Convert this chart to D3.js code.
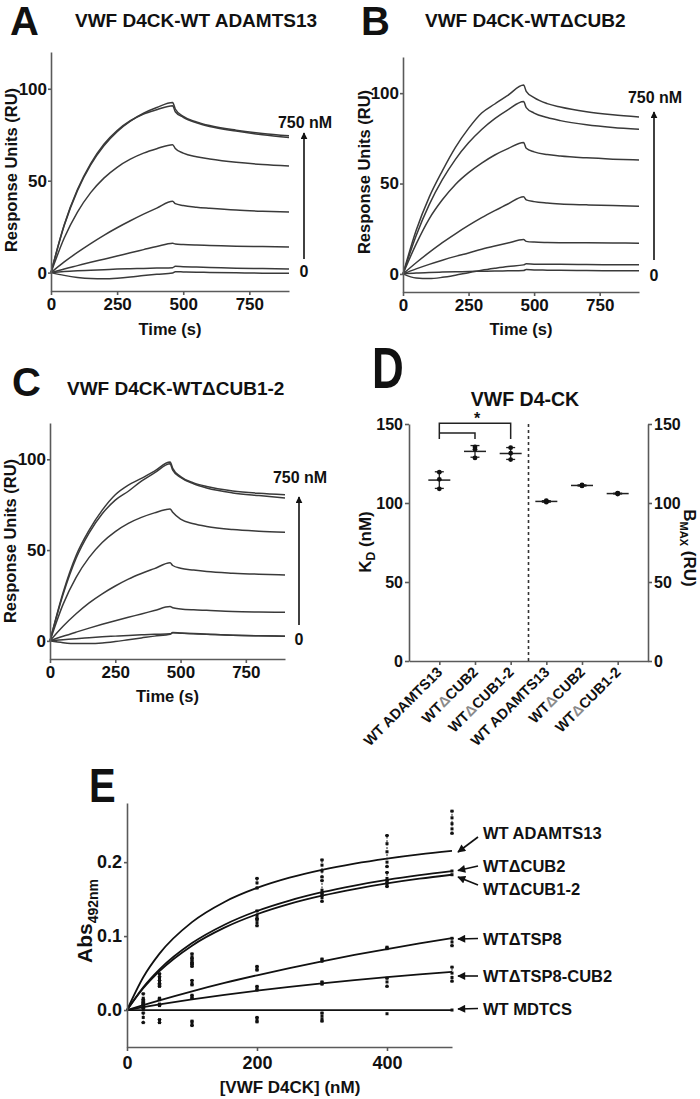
<!DOCTYPE html>
<html><head><meta charset="utf-8">
<script src="https://cdn.jsdelivr.net/npm/d3@7"></script>
<style>
html,body{margin:0;padding:0;background:#fff;}
svg{display:block;}
</style></head><body>
<svg id="fig" width="700" height="1099"></svg>
<script>
// ---------------- DATA ----------------
// Panels A-C: SPR sensorgrams (Response units vs time)
const times = [0, 50, 100, 150, 200, 250, 300, 350, 400, 460, 470, 500, 550, 600, 700, 800, 900];
const sprTicksX = [0, 250, 500, 750];
const sprTicksY = [0, 50, 100];

const curvesA = [
  [0, 25.6, 44.6, 58.6, 69, 76.7, 82.4, 86.7, 89.8, 92.5, 89, 85, 82, 80, 77.5, 75.7, 74.4],
  [0, 26, 45.2, 59.3, 69.8, 77.3, 82.6, 86.3, 88.6, 90.8, 87.5, 84.5, 81.5, 79.5, 77, 75, 73.5],
  [0, 18.8, 32.9, 43.5, 51.4, 57.3, 61.7, 65, 67.4, 69.6, 67.5, 65, 63, 61.8, 60, 58.8, 58],
  [0, 5.8, 11, 15.8, 20.3, 24.4, 28.2, 31.8, 35.1, 38.8, 37.5, 36.5, 35.6, 35, 34, 33.4, 33],
  [0, 2, 3.8, 5.6, 7.3, 9, 10.8, 12.5, 14.2, 16, 15.6, 15.3, 15, 14.8, 14.4, 14.2, 14],
  [0, 0.6, 1, 1.3, 1.6, 1.9, 2.1, 2.3, 2.5, 2.7, 3.4, 3.2, 3, 2.8, 2.4, 2.2, 2],
  [0, -1.5, -2.6, -3.2, -3.3, -3, -2.4, -1.6, -0.9, -0.2, 0.5, 0.4, 0.2, 0.1, -0.1, -0.3, -0.4]
];
const curvesB = [
  [0, 24, 42.5, 57, 70, 80.5, 89, 94, 98.8, 104.5, 101, 97.5, 94.2, 92.3, 89.7, 88, 86.8],
  [0, 21.1, 38.3, 52.1, 63.4, 72.5, 79.9, 85.9, 90.8, 95.4, 92, 89, 86.5, 84.8, 82.5, 81, 80],
  [0, 16.5, 30.5, 41, 49.5, 56, 61.3, 65.8, 69.3, 72.7, 69.5, 67.5, 66, 65.2, 64.2, 63.5, 63],
  [0, 6.2, 11.9, 17.3, 22.2, 26.8, 31.1, 35, 38.7, 42.7, 41, 40, 39.2, 38.7, 38.2, 37.8, 37.5],
  [0, 2.8, 5.3, 7.6, 9.7, 11.6, 13.6, 15.4, 17.1, 19, 18, 17.6, 17.4, 17.3, 17.2, 17.1, 17],
  [0, -2.3, -2.6, -1.9, -0.7, 0.7, 2, 3.1, 4.1, 5, 5.6, 5.4, 5.3, 5.3, 5.2, 5.1, 5.1],
  [0, 0.5, 0.8, 1, 1.2, 1.3, 1.5, 1.6, 1.7, 1.9, 2.4, 2.2, 2.1, 2, 1.9, 1.8, 1.8]
];
const curvesC = [
  [0, 26.5, 47, 61, 72, 80.5, 85.8, 89.5, 93.5, 98.5, 95, 90.5, 87, 85, 82.6, 81.3, 80.5],
  [0, 25.5, 45.5, 59.5, 70, 77.5, 82.4, 88, 92.5, 97.5, 94, 90, 86.5, 84.2, 81.5, 80, 78.7],
  [0, 20.1, 35, 46, 54.2, 60.2, 64.7, 68, 70.5, 72.6, 70.8, 67, 64.5, 63, 61.3, 60.4, 59.8],
  [0, 8, 14.9, 20.9, 25.9, 30.2, 34, 37.1, 39.8, 43, 41.5, 40, 39, 38.2, 37.3, 36.7, 36.3],
  [0, 2.5, 4.8, 7, 9.1, 11.1, 13, 14.8, 16.7, 18.9, 18.2, 17.6, 17.1, 16.8, 16.2, 15.9, 15.7],
  [0, 0.6, 1.2, 1.7, 2.2, 2.6, 3, 3.3, 3.6, 3.9, 4.4, 4.2, 3.9, 3.6, 3.1, 2.8, 2.6],
  [0, -1, -1.5, -1.5, -1.2, -0.4, 0.6, 1.6, 2.6, 3.6, 4.6, 4.3, 4, 3.7, 3.1, 2.8, 2.6]
];

// Panel D: KD and BMAX replicates
const dLabels = ["WT ADAMTS13", "WTΔCUB2", "WTΔCUB1-2", "WT ADAMTS13", "WTΔCUB2", "WTΔCUB1-2"];
const kdValues = [[119.5, 115, 109], [135.5, 134, 128.5], [135, 131.5, 127.5]];
const bmaxValues = [[101.5, 101, 100.5], [111.5, 111, 110.8], [106.2, 106, 105.7]];
const dTicks = [0, 50, 100, 150];

// Panel E: plate binding
const eNames = ["WT ADAMTS13", "WTΔCUB2", "WTΔCUB1-2", "WTΔTSP8", "WTΔTSP8-CUB2", "WT MDTCS"];
const eConc = [25, 50, 100, 200, 300, 400, 500];
const eFitConc = [0, 25, 50, 100, 150, 200, 250, 300, 350, 400, 450, 500];
const eFitWT     = [0, 0.0444, 0.0763, 0.1189, 0.1462, 0.1651, 0.179, 0.1897, 0.1981, 0.2049, 0.2106, 0.2153];
const eFitCUB2   = [0, 0.0307, 0.0549, 0.0905, 0.1154, 0.1339, 0.148, 0.1593, 0.1684, 0.176, 0.1824, 0.1879];
const eFitCUB12  = [0, 0.0294, 0.0526, 0.0871, 0.1114, 0.1295, 0.1435, 0.1546, 0.1636, 0.1712, 0.1776, 0.183];
const eFitTSP8   = [0, 0.0067, 0.0131, 0.0253, 0.0366, 0.047, 0.0568, 0.0659, 0.0745, 0.0825, 0.09, 0.0971];
const eFitTSP8C2 = [0, 0.0039, 0.0076, 0.0144, 0.0206, 0.0262, 0.0314, 0.0361, 0.0405, 0.0445, 0.0482, 0.0516];
const eFitMDTCS  = [0, 0, 0, 0, 0, 0, 0, 0, 0, 0, 0, 0];
const eRepWT     = [[0.022, 0.016, 0.010], [0.049, 0.044, 0.040], [0.076, 0.072, 0.068, 0.064], [0.178, 0.172, 0.165], [0.203, 0.196, 0.188, 0.18], [0.236, 0.225, 0.214, 0.2, 0.194], [0.269, 0.260, 0.252, 0.245, 0.239]];
const eRepCUB2   = [[0.014, 0.008], [0.045, 0.038, 0.034], [0.07, 0.066, 0.062], [0.134, 0.128, 0.124], [0.175, 0.162, 0.155], [0.186, 0.178, 0.172], [0.188]];
const eRepCUB12  = [[0.012, 0.006], [0.036, 0.032], [0.062, 0.059], [0.122, 0.118, 0.114], [0.158, 0.152, 0.147], [0.175, 0.170, 0.167], [0.183]];
const eRepTSP8   = [[0.008, 0.004], [0.016, 0.014], [0.040, 0.036, 0.034], [0.059, 0.056, 0.054], [0.069, 0.066], [0.085, 0.083], [0.097, 0.092, 0.087]];
const eRepTSP8C2 = [[0.004, 0.002], [0.008, 0.006], [0.020, 0.018, 0.016], [0.032, 0.029, 0.027], [0.038, 0.035], [0.043, 0.038, 0.032], [0.058, 0.050, 0.044, 0.039]];
const eRepMDTCS  = [[-0.004, -0.010, -0.017], [-0.013, -0.017], [-0.015, -0.018, -0.021], [-0.010, -0.013, -0.016], [-0.004, -0.008, -0.012, -0.015], [-0.005], [0.0]];
const eTicksX = [0, 200, 400];
const eTicksY = [0, 0.1, 0.2];

// ---------------- DRAWING ----------------
const FONT = '"Liberation Sans", Arial, Helvetica, sans-serif';
const AX = "#5a5a5a";
const svg = d3.select("#fig").attr("font-family", FONT).attr("font-weight", "bold");

const defs = svg.append("defs");
defs.append("marker").attr("id", "ah").attr("viewBox", "0 0 10 10").attr("refX", 9).attr("refY", 5)
  .attr("markerWidth", 7).attr("markerHeight", 7).attr("markerUnits", "userSpaceOnUse").attr("orient", "auto")
  .append("path").attr("d", "M0,0 L10,5 L0,10 z").attr("fill", "#111");
defs.append("marker").attr("id", "ah2").attr("viewBox", "0 0 10 10").attr("refX", 9).attr("refY", 5)
  .attr("markerWidth", 9).attr("markerHeight", 8).attr("markerUnits", "userSpaceOnUse").attr("orient", "auto")
  .append("path").attr("d", "M0,0 L10,5 L0,10 z").attr("fill", "#111");

function styleAxis(g, fs) {
  g.attr("font-family", FONT).attr("font-size", fs).attr("font-weight", "bold");
  g.select(".domain").attr("stroke", AX).attr("stroke-width", 1.6);
  g.selectAll(".tick line").attr("stroke", AX).attr("stroke-width", 1.6);
  g.selectAll(".tick text").attr("fill", "#111");
}

function text(x, y, s, fs, opts = {}) {
  const t = svg.append("text").attr("x", x).attr("y", y).attr("font-size", fs).attr("fill", "#111").text(s);
  if (opts.anchor) t.attr("text-anchor", opts.anchor);
  if (opts.transform) t.attr("transform", opts.transform);
  return t;
}

function sensorgram(cfg) {
  const x = d3.scaleLinear().domain([0, 900]).range(cfg.xr);
  const y = d3.scaleLinear().domain([-10, 120]).range(cfg.yr);
  const g = svg.append("g");
  const line = d3.line().x((d, i) => x(times[i])).y(d => y(d)).curve(d3.curveMonotoneX);
  cfg.curves.forEach(c => g.append("path").attr("d", line(c)).attr("fill", "none")
    .attr("stroke", "#3a3a3a").attr("stroke-width", 1.5));
  const ya = g.append("g").attr("transform", `translate(${cfg.xr[0]},0)`)
    .call(d3.axisLeft(y).tickValues(sprTicksY).tickSize(3).tickSizeOuter(0).tickPadding(1));
  styleAxis(ya, 17);
  const xa = g.append("g").attr("transform", `translate(0,${cfg.yr[0]})`)
    .call(d3.axisBottom(x).tickValues(sprTicksX).tickSize(4).tickSizeOuter(0).tickPadding(3));
  styleAxis(xa, 17);
  // titles / labels
  text(cfg.letterX, cfg.letterY, cfg.letter, 40);
  text(cfg.titleX, cfg.titleY, cfg.title, 19);
  text((cfg.xr[0] + cfg.xr[1]) / 2, cfg.timeY, "Time (s)", 16.5, {anchor: "middle"});
  text(0, 0, "Response Units (RU)", 16.5, {anchor: "middle", transform: `translate(${cfg.ylabX},${cfg.ylabY}) rotate(-90)`});
  // concentration arrow
  svg.append("line").attr("x1", cfg.arrowX).attr("x2", cfg.arrowX).attr("y1", cfg.arrowBottom).attr("y2", cfg.arrowTop)
    .attr("stroke", "#111").attr("stroke-width", 1.6).attr("marker-end", "url(#ah)");
  text(cfg.arrowX + 1, cfg.topLabelY, "750 nM", 16, {anchor: "middle"});
  text(cfg.arrowX, cfg.zeroLabelY, "0", 16, {anchor: "middle"});
}

sensorgram({curves: curvesA, xr: [51, 289], yr: [291, 52], letter: "A", letterX: 10, letterY: 35,
  title: "VWF D4CK-WT ADAMTS13", titleX: 75, titleY: 27, timeY: 335, ylabX: 17, ylabY: 170,
  arrowX: 304, arrowTop: 133, arrowBottom: 259, topLabelY: 128, zeroLabelY: 277});
sensorgram({curves: curvesB, xr: [403, 639], yr: [292, 57], letter: "B", letterX: 361, letterY: 35,
  title: "VWF D4CK-WTΔCUB2", titleX: 425, titleY: 27, timeY: 335, ylabX: 370, ylabY: 172,
  arrowX: 654, arrowTop: 112, arrowBottom: 260, topLabelY: 103, zeroLabelY: 281});
sensorgram({curves: curvesC, xr: [50, 285], yr: [659, 423], letter: "C", letterX: 12, letterY: 396,
  title: "VWF D4CK-WTΔCUB1-2", titleX: 67, titleY: 395, timeY: 702, ylabX: 16, ylabY: 541,
  arrowX: 299, arrowTop: 497, arrowBottom: 625, topLabelY: 483, zeroLabelY: 645});

// ---------- Panel D ----------
(function () {
  const x = d3.scalePoint().domain(d3.range(6)).range([409, 648]).padding(0.85);
  const y = d3.scaleLinear().domain([0, 150]).range([661, 424]);
  const g = svg.append("g");
  const yl = g.append("g").attr("transform", "translate(409,0)")
    .call(d3.axisLeft(y).tickValues(dTicks).tickSize(4).tickSizeOuter(0).tickPadding(2));
  styleAxis(yl, 16);
  const yr = g.append("g").attr("transform", "translate(648,0)")
    .call(d3.axisRight(y).tickValues(dTicks).tickSize(4).tickSizeOuter(0).tickPadding(2));
  styleAxis(yr, 16);
  const xa = g.append("g").attr("transform", "translate(0,661)")
    .call(d3.axisBottom(x).tickSize(4).tickSizeOuter(0).tickFormat(""));
  styleAxis(xa, 13);
  // dashed separator
  const mid = (x(2) + x(3)) / 2;
  g.append("line").attr("x1", mid).attr("x2", mid).attr("y1", y(0)).attr("y2", y(150))
    .attr("stroke", "#333").attr("stroke-width", 1.6).attr("stroke-dasharray", "3,3");
  // category labels
  dLabels.forEach((lab, i) => {
    const t = g.append("text").attr("transform", `translate(${x(i) + 4},673) rotate(-45)`)
      .attr("text-anchor", "end").attr("font-size", 14.5).attr("fill", "#111");
    const parts = lab.split("Δ");
    t.append("tspan").text(parts[0]);
    if (parts.length > 1) {
      t.append("tspan").attr("fill", "#8a8a8a").text("Δ");
      t.append("tspan").text(parts[1]);
    }
  });
  // groups
  const groups = kdValues.map((v, i) => ({i: i, v: v})).concat(bmaxValues.map((v, i) => ({i: i + 3, v: v})));
  groups.forEach(gr => {
    const cx = x(gr.i), m = d3.mean(gr.v), sd = d3.deviation(gr.v);
    g.append("line").attr("x1", cx - 11).attr("x2", cx + 11).attr("y1", y(m)).attr("y2", y(m))
      .attr("stroke", "#222").attr("stroke-width", 1.5);
    g.append("line").attr("x1", cx).attr("x2", cx).attr("y1", y(m - sd)).attr("y2", y(m + sd))
      .attr("stroke", "#222").attr("stroke-width", 1.3);
    [m - sd, m + sd].forEach(v => g.append("line").attr("x1", cx - 4.5).attr("x2", cx + 4.5)
      .attr("y1", y(v)).attr("y2", y(v)).attr("stroke", "#222").attr("stroke-width", 1.3));
    gr.v.forEach(v => g.append("circle").attr("cx", cx).attr("cy", y(v)).attr("r", 2.4).attr("fill", "#111"));
  });
  // significance brackets
  const bk = "#222";
  g.append("path").attr("d", `M${x(0)},${y(140.5)} V${y(150.5)} H${x(2)} V${y(140.5)}`)
    .attr("fill", "none").attr("stroke", bk).attr("stroke-width", 1.5);
  g.append("path").attr("d", `M${x(0)},${y(144.3)} H${x(1)} V${y(140.5)}`)
    .attr("fill", "none").attr("stroke", bk).attr("stroke-width", 1.5);
  text((x(0) + x(2)) / 2 + 2, 424, "*", 16, {anchor: "middle"});
  // labels
  svg.append("text").attr("x", 372).attr("y", 388).attr("font-size", 44).attr("fill", "#111")
    .attr("transform", "translate(372,388) scale(1,1.3) translate(-372,-388)").text("D");
  text(525, 406, "VWF D4-CK", 19.5, {anchor: "middle"});
  const kd = svg.append("text").attr("transform", "translate(371,542) rotate(-90)").attr("text-anchor", "middle")
    .attr("font-size", 17).attr("fill", "#111");
  kd.append("tspan").text("K");
  kd.append("tspan").attr("font-size", 12).attr("dy", 4).text("D");
  kd.append("tspan").attr("dy", -4).text(" (nM)");
  const bm = svg.append("text").attr("transform", "translate(684,548) rotate(90)").attr("text-anchor", "middle")
    .attr("font-size", 17).attr("fill", "#111");
  bm.append("tspan").text("B");
  bm.append("tspan").attr("font-size", 11).attr("dy", 4).text("MAX");
  bm.append("tspan").attr("dy", -4).text(" (RU)");
})();

// ---------- Panel E ----------
(function () {
  const x = d3.scaleLinear().domain([0, 500]).range([127, 452]);
  const y = d3.scaleLinear().domain([-0.05, 0.28]).range([1047, 803]);
  const g = svg.append("g");
  const fits = [eFitWT, eFitCUB2, eFitCUB12, eFitTSP8, eFitTSP8C2, eFitMDTCS];
  const reps = [eRepWT, eRepCUB2, eRepCUB12, eRepTSP8, eRepTSP8C2, eRepMDTCS];
  const line = d3.line().x((d, i) => x(eFitConc[i])).y(d => y(d)).curve(d3.curveMonotoneX);
  fits.forEach(f => g.append("path").attr("d", line(f)).attr("fill", "none")
    .attr("stroke", "#111").attr("stroke-width", 1.8));
  reps.forEach(r => r.forEach((vals, j) => {
    const cx = x(eConc[j]);
    if (vals.length > 1) {
      const lo = d3.min(vals), hi = d3.max(vals);
      g.append("line").attr("x1", cx).attr("x2", cx).attr("y1", y(lo)).attr("y2", y(hi))
        .attr("stroke", "#222").attr("stroke-width", 1).attr("stroke-dasharray", "2,1.5");
      [lo, hi].forEach(v => g.append("line").attr("x1", cx - 2).attr("x2", cx + 2).attr("y1", y(v)).attr("y2", y(v))
        .attr("stroke", "#222").attr("stroke-width", 1));
    }
    vals.forEach(v => g.append("rect").attr("x", cx - 1.5).attr("y", y(v) - 1.5).attr("width", 3).attr("height", 3).attr("fill", "#111"));
  }));
  const ya = g.append("g").attr("transform", "translate(127,0)")
    .call(d3.axisLeft(y).tickValues(eTicksY).tickFormat(d3.format(".1f")).tickSize(3).tickSizeOuter(0).tickPadding(2));
  styleAxis(ya, 18);
  const xa = g.append("g").attr("transform", "translate(0,1047)")
    .call(d3.axisBottom(x).tickValues(eTicksX).tickSize(4).tickSizeOuter(0).tickPadding(5));
  styleAxis(xa, 18);
  text(290, 1093, "[VWF D4CK] (nM)", 17, {anchor: "middle"});
  const ab = svg.append("text").attr("transform", "translate(92,963) rotate(-90)").attr("font-size", 21).attr("fill", "#111");
  ab.append("tspan").text("Abs");
  ab.append("tspan").attr("font-size", 14).attr("dy", 6).text("492nm");
  svg.append("text").attr("x", 89).attr("y", 802).attr("font-size", 40).attr("fill", "#111")
    .attr("transform", "translate(89,802) scale(1,1.22) translate(-89,-802)").text("E");
  // labels with arrows
  const labelY = [833, 866, 889, 938.5, 976, 1008.5];
  const tipY = [852, 870.5, 877, 939, 976, 1009];
  eNames.forEach((n, i) => {
    svg.append("line").attr("x1", 478).attr("y1", labelY[i] + (i === 0 ? 4 : i === 2 ? -4 : 0))
      .attr("x2", 458).attr("y2", tipY[i]).attr("stroke", "#111").attr("stroke-width", 1.6).attr("marker-end", "url(#ah2)");
    text(483, labelY[i] + 6, n, 16.5);
  });
})();
</script>
</body></html>
